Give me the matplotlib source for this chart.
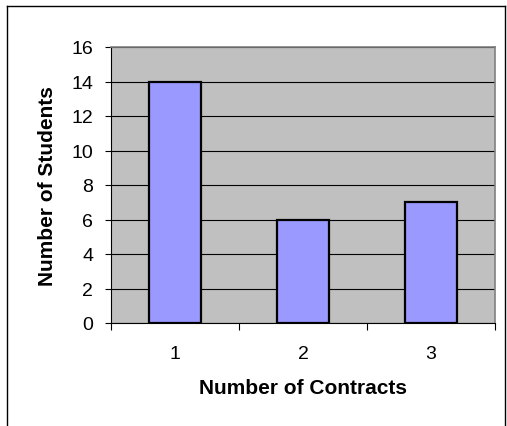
import matplotlib.pyplot as plt
from matplotlib.lines import Line2D

# data
contracts = ['1', '2', '3']
students = [14, 6, 7]
y_ticks = [0, 2, 4, 6, 8, 10, 12, 14, 16]

plt.rcParams['font.family'] = ['Liberation Sans', 'DejaVu Sans']

fig = plt.figure(figsize=(5.07, 4.27), dpi=100)
ax = fig.add_axes([111 / 507, 103 / 427, 384 / 507, 276 / 427])
ax.set_facecolor('#C0C0C0')

pos = list(range(1, len(contracts) + 1))
ax.bar(pos, students, width=0.4, color='#9999FF', edgecolor='black',
       linewidth=1.6, zorder=3)

ax.set_xlim(0.5, len(contracts) + 0.5)
ax.set_ylim(0, 16)
ax.set_yticks(y_ticks)
ax.yaxis.grid(True, color='black', linewidth=0.8, zorder=1)
ax.set_axisbelow(True)

# category boundaries as major ticks, labels on minor ticks
ax.set_xticks([p - 0.5 for p in pos] + [pos[-1] + 0.5])
ax.set_xticklabels([])
ax.set_xticks(pos, minor=True)
ax.set_xticklabels(contracts, minor=True)
ax.tick_params(axis='x', which='major', length=5, width=0.8, direction='out')
ax.tick_params(axis='x', which='minor', length=0, pad=15.5, labelsize=14)
ax.tick_params(axis='y', length=4.3, width=0.8, pad=8.5, labelsize=14)

for s in ['top', 'right']:
    ax.spines[s].set_color('#808080')
    ax.spines[s].set_linewidth(1.2)
for s in ['left', 'bottom']:
    ax.spines[s].set_color('black')
    ax.spines[s].set_linewidth(0.8)

ax.set_xlabel('Number of Contracts', fontsize=15, fontweight='bold')
ax.set_ylabel('Number of Students', fontsize=15, fontweight='bold')
ax.xaxis.set_label_coords(0.5, -0.2)
ax.yaxis.set_label_coords(-0.14, 0.5)

# chart border (top/left/right visible)
W, H = 507, 427
fig.add_artist(Line2D([7 / W, 7 / W], [0, 1 - 7 / H], color='black', lw=1))
fig.add_artist(Line2D([7 / W, 505 / W], [1 - 7 / H, 1 - 7 / H], color='black', lw=1))
fig.add_artist(Line2D([505 / W, 505 / W], [0, 1 - 7 / H], color='black', lw=1))

fig.savefig('out.png', dpi=100, facecolor='white')
